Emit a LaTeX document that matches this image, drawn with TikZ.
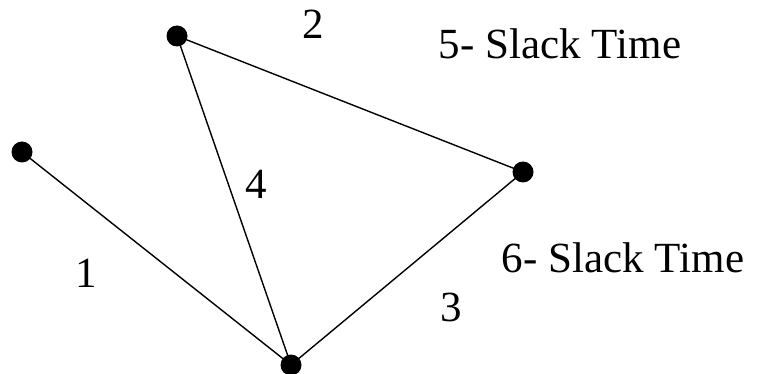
\documentclass[tikz,border=0pt]{standalone}
\usepackage{fontspec}
\setmainfont{Liberation Serif}
\begin{document}
\begin{tikzpicture}[x=1pt,y=-1pt,
  dot/.style={circle,fill=black,inner sep=0pt,minimum size=21pt},
  lbl/.style={inner sep=0pt,font=\fontsize{43}{50}\selectfont},
  edge/.style={line width=1.4pt}]
\useasboundingbox (0,0) rectangle (757,374);
\node[dot] (A) at (22,152) {};
\node[dot] (B) at (177,36) {};
\node[dot] (C) at (523,172) {};
\node[dot] (D) at (291,365) {};
\draw[edge] (A.center) -- (D.center);
\draw[edge] (B.center) -- (D.center);
\draw[edge] (B.center) -- (C.center);
\draw[edge] (C.center) -- (D.center);
\node[lbl] (l2) at (313,24) {2};
\node[lbl] (l5) at (560,44) {5- Slack Time};
\node[lbl] (l4) at (256,184) {4};
\node[lbl] (l1) at (86,273) {1};
\node[lbl] (l6) at (623,258) {6- Slack Time};
\node[lbl] (l3) at (451,307) {3};
\end{tikzpicture}
\end{document}
